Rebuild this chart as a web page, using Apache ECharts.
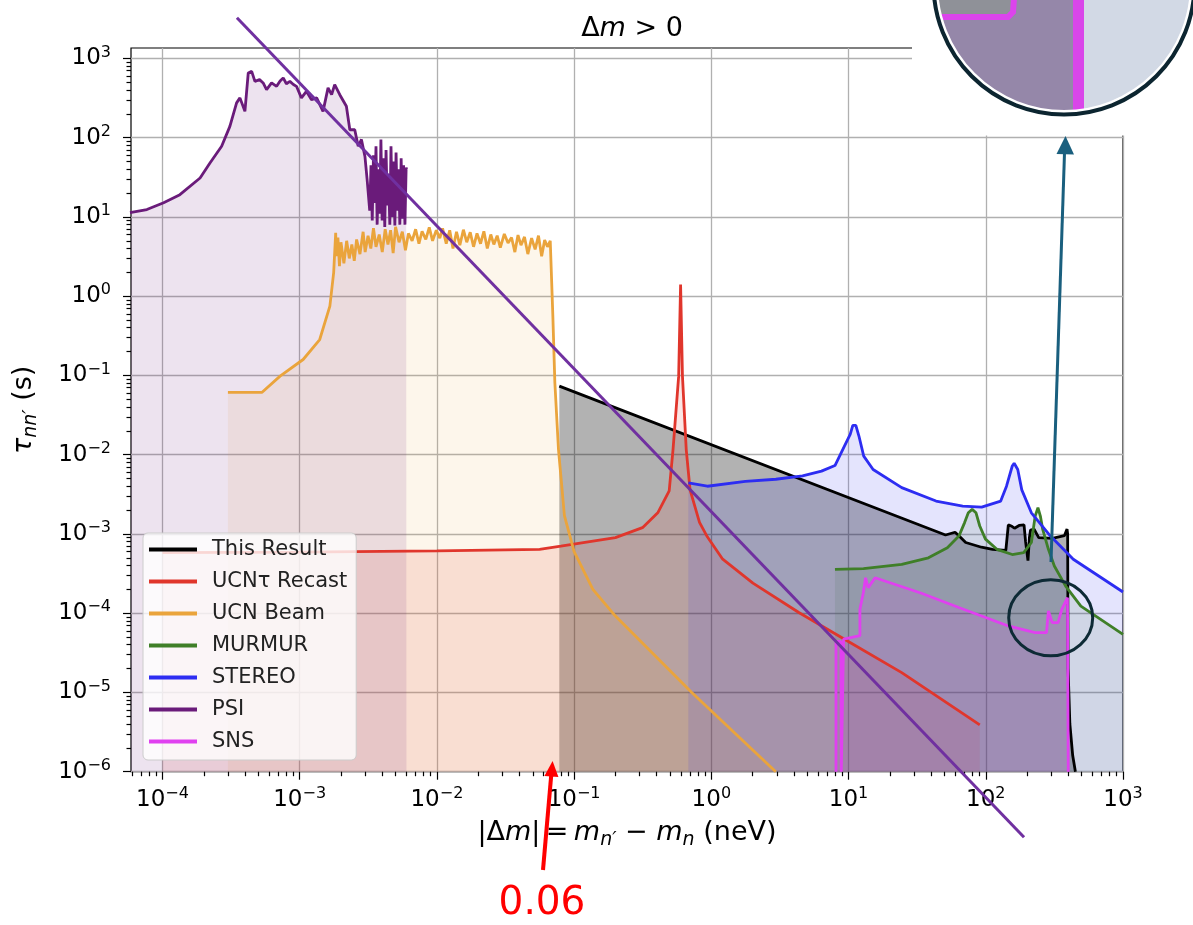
<!DOCTYPE html>
<html><head><meta charset="utf-8">
<script src="https://cdn.jsdelivr.net/npm/echarts@6/dist/echarts.min.js"></script>
<style>html,body{margin:0;padding:0;background:#fff}#c{width:1193px;height:925px}</style>
</head><body><div id="c"></div>
<script>
// ---------- data ----------
const xMajorTicks = [1e-4, 1e-3, 1e-2, 1e-1, 1, 10, 100, 1000];
const yMajorTicks = [1e-6, 1e-5, 1e-4, 1e-3, 1e-2, 1e-1, 1, 10, 100, 1000];
const legendNames = ['This Result', 'UCNτ Recast', 'UCN Beam', 'MURMUR', 'STEREO', 'PSI', 'SNS'];

const thisResult = [[0.078,0.0733],[50.9,9.7e-4],[59.7,1.05e-3],[64,9.4e-4],[71.4,7.8e-4],[93,6.8e-4],[112,6.4e-4],[140,6.2e-4],[146,1.3e-3],[155,1.25e-3],[162,1.18e-3],[175,1.28e-3],[190,1.3e-3],[195,8e-4],[203,4.6e-4],[208,9e-4],[212,1.12e-3],[225,1.15e-3],[243,9e-4],[305,8.8e-4],[374,9.5e-4],[391,1.15e-3],[395,1e-3],[398,2e-5],[410,4e-6],[430,1.6e-6],[450,1e-6]];

const ucnTauRecast = [[1e-4,5.8e-4],[1e-3,5.9e-4],[1e-2,6.1e-4],[0.056,6.4e-4],[0.08,7.0e-4],[0.2,9e-4],[0.315,1.2e-3],[0.407,1.85e-3],[0.493,3.5e-3],[0.526,0.0117],[0.578,0.098],[0.597,1.4],[0.616,0.098],[0.656,0.0117],[0.70,3.6e-3],[0.82,1.4e-3],[0.935,9.2e-4],[1.21,4.8e-4],[2.01,2.4e-4],[4.34,1.02e-4],[9.34,4.7e-5],[24.4,1.78e-5],[90.4,3.9e-6]];

const ucnBeam = [[3.0e-4,0.061],[5.3e-4,0.061],[7.2e-4,0.098],[1.06e-3,0.159],[1.4e-3,0.284],[1.66e-3,0.75],[1.77e-3,2.0],[1.83e-3,6.3],
[1.85e-3,3.2],[1.9e-3,5.5],[1.95e-3,2.4],[2.0e-3,4.8],[2.1e-3,2.6],[2.2e-3,5.0],[2.3e-3,3.0],[2.4e-3,4.5],[2.5e-3,2.8],[2.6e-3,5.2],[2.75e-3,3.4],[2.9e-3,6.5],[3.0e-3,3.6],[3.15e-3,5.8],[3.3e-3,4.0],[3.45e-3,7.2],[3.6e-3,4.2],[3.8e-3,6.0],[4.0e-3,3.6],[4.2e-3,7.0],[4.4e-3,4.5],[4.6e-3,6.8],[4.8e-3,3.5],[5.0e-3,7.5],[5.3e-3,4.8],[5.6e-3,6.5],[5.9e-3,3.8],[6.2e-3,6.2],[6.6e-3,5.0],[7.0e-3,7.0],[7.4e-3,4.6],[7.8e-3,6.6],[8.3e-3,5.2],[8.8e-3,7.4],[9.3e-3,5.0],[9.9e-3,6.8],[1.05e-2,5.4],[1.1e-2,7.2],[1.17e-2,4.6],[1.24e-2,6.8],[1.31e-2,4.0],[1.39e-2,6.5],[1.47e-2,4.4],[1.56e-2,6.9],[1.65e-2,4.8],[1.75e-2,6.4],[1.85e-2,4.2],[1.96e-2,6.2],[2.08e-2,4.6],[2.2e-2,6.6],[2.33e-2,4.0],[2.47e-2,6.0],[2.6e-2,4.5],[2.75e-2,5.8],[2.9e-2,4.1],[3.1e-2,6.1],[3.3e-2,4.7],[3.5e-2,5.5],[3.7e-2,3.6],[3.9e-2,5.9],[4.1e-2,4.4],[4.35e-2,5.6],[4.6e-2,3.4],[4.9e-2,5.4],[5.2e-2,3.9],[5.5e-2,5.8],[5.8e-2,3.2],[6.1e-2,5.1],[6.4e-2,4.2],[6.7e-2,5.0],
[7.0e-2,0.56],[7.24e-2,0.081],[7.69e-2,0.0117],[8.5e-2,1.7e-3],[0.1,6e-4],[0.137,2e-4],[0.2,9.2e-5],[0.72,1e-5],[2.95,1e-6]];

const murmur = [[7.96,3.57e-4],[12.85,3.65e-4],[24.4,4.14e-4],[38.2,5.0e-4],[52.5,6.7e-4],[63.7,9.4e-4],[70.1,1.39e-3],[74.6,1.85e-3],[79.6,2.04e-3],[84.9,1.85e-3],[90.4,1.26e-3],[99.5,8.6e-4],[120.5,6.4e-4],[156,5.5e-4],[189,5.8e-4],[215,7.8e-4],[229,1.68e-3],[240,2.14e-3],[250,1.68e-3],[260,1.14e-3],[286,6.4e-4],[316,3.94e-4],[382,2.2e-4],[493,1.23e-4],[1000,5.4e-5]];

const stereo = [[0.68,4.4e-3],[0.935,4.0e-3],[1.77,4.6e-3],[2.95,4.9e-3],[4.62,5.4e-3],[6.35,6.2e-3],[7.96,7.3e-3],[9.33,0.0128],[10.28,0.018],[10.74,0.0234],[11.3,0.0234],[11.9,0.0172],[12.9,9.6e-3],[15.1,6.5e-3],[24.4,3.84e-3],[43.4,2.6e-3],[67.9,2.25e-3],[93.3,2.18e-3],[128.5,2.6e-3],[141.6,4.0e-3],[156,7.2e-3],[161,7.8e-3],[171,6.5e-3],[183,3.6e-3],[215,1.85e-3],[296,9.4e-4],[434,4.8e-4],[1000,1.85e-4]];

const psi = [[5.8e-5,11.3],[7.7e-5,12.4],[1.02e-4,15.1],[1.34e-4,19.1],[1.88e-4,31],[2.22e-4,48],[2.70e-4,78],[3.10e-4,139],[3.47e-4,275],[3.67e-4,318],[3.99e-4,215],[4.22e-4,656],[4.47e-4,687],[4.72e-4,514],[5.1e-4,540],[5.42e-4,491],[5.74e-4,405],[6.24e-4,491],[6.79e-4,445],[7.2e-4,520],[7.59e-4,568],[8.0e-4,480],[8.49e-4,514],[9.0e-4,470],[9.48e-4,445],[1.03e-3,318],[1.12e-3,385],[1.22e-3,302],[1.33e-3,318],[1.48e-3,215],[1.61e-3,425],[1.71e-3,350],[1.80e-3,468],[1.96e-3,349],[2.19e-3,249],[2.32e-3,126],[2.52e-3,126],[2.67e-3,78],[2.82e-3,95],[2.99e-3,58],[3.1e-3,30],
[3.17e-3,30],[3.24e-3,12],[3.31e-3,45],[3.38e-3,9],[3.45e-3,60],[3.52e-3,15],[3.60e-3,78],[3.67e-3,8],[3.75e-3,40],[3.83e-3,11],[3.91e-3,95],[3.99e-3,9],[4.08e-3,55],[4.17e-3,7.5],[4.26e-3,70],[4.35e-3,14],[4.44e-3,35],[4.54e-3,8],[4.63e-3,78],[4.73e-3,10],[4.83e-3,50],[4.94e-3,7.8],[5.04e-3,65],[5.15e-3,12],[5.26e-3,40],[5.37e-3,8],[5.49e-3,55],[5.60e-3,9.5],[5.72e-3,45],[5.85e-3,8],[5.97e-3,42],[6.0e-3,40]];

const sns = [[8.1,1e-6],[8.1,4.4e-5],[8.8,4.4e-5],[8.85,1e-6],[9.1,1e-6],[9.2,4.7e-5],[12.1,5.2e-5],[12.1,1.12e-4],[12.8,1.8e-4],[13.3,2.8e-4],[13.9,2.1e-4],[15.6,2.8e-4],[33.6,1.8e-4],[63.6,1.18e-4],[146,6.9e-5],[229,5.7e-5],[277,5.7e-5],[286,1.07e-4],[305,7.6e-5],[336,7.6e-5],[358,1.12e-4],[394,1.57e-4],[399,1e-6]];

const annotationLine = [[3.49e-4,3270],[190,1.49e-7]];

// ---------- chart ----------
const FONT = 'DejaVu Sans';
const colors = {
  'This Result':'#000000','UCNτ Recast':'#e0362c','UCN Beam':'#eaa43c','MURMUR':'#3f7f28',
  'STEREO':'#2d2df2','PSI':'#6a1b7a','SNS':'#e040f0'
};
const fillAlpha = {'This Result':0.3,'UCNτ Recast':0.13,'UCN Beam':0.1,'MURMUR':0.12,'STEREO':0.13,'PSI':0.12,'SNS':0.15};
const seriesData = {'This Result':thisResult,'UCNτ Recast':ucnTauRecast,'UCN Beam':ucnBeam,'MURMUR':murmur,'STEREO':stereo,'PSI':psi,'SNS':sns};

function rgba(hex,a){const n=parseInt(hex.slice(1),16);return `rgba(${n>>16},${(n>>8)&255},${n&255},${a})`;}
function minorsOf(majors, lo, hi){const out=[];const all=[majors[0]/10].concat(majors);all.forEach(m=>{for(let k=2;k<=9;k++){const v=m*k;if(v>=lo&&v<=hi)out.push(v);}});return out;}
const xMin=5.9e-5, xMax=1000, yMin=1e-6, yMax=1355;
const xMinorTicks = minorsOf(xMajorTicks,xMin,xMax);
const yMinorTicks = minorsOf(yMajorTicks,yMin,yMax);

function powLabel(v){const e=Math.round(Math.log10(v));return '{b|10}{s|'+(e<0?'\u2212'+(-e):String(e))+'}';}
const labelRich = {
  b:{fontSize:23,lineHeight:28,fontFamily:FONT,color:'#000'},
  s:{fontSize:16,lineHeight:19,verticalAlign:'top',fontFamily:FONT,color:'#000'}
};
const tickStyle = {color:'#000',width:1.2};
const gridLine = {show:true,lineStyle:{color:'#b0b0b0',width:1.3}};
const nameRich = {
  t:{fontSize:27,lineHeight:34,fontFamily:FONT,color:'#000'},
  i:{fontSize:27,lineHeight:34,fontFamily:FONT,fontStyle:'italic',color:'#000'},
  sub:{fontSize:19,lineHeight:22,fontFamily:FONT,fontStyle:'italic',verticalAlign:'bottom',color:'#000'}
};

const series = [];
legendNames.forEach(n=>{
  series.push({name:n,type:'line',data:seriesData[n],symbol:'none',showSymbol:false,z:1,silent:true,animation:false,
    color:colors[n],lineStyle:{width:0,color:colors[n]},itemStyle:{color:colors[n]},
    areaStyle:{color:rgba(colors[n],fillAlpha[n]),opacity:1,origin:'start'}});
});
legendNames.forEach(n=>{
  series.push({name:n,type:'line',data:seriesData[n],symbol:'none',showSymbol:false,z:2,silent:true,animation:false,
    color:colors[n],lineStyle:{width:2.8,color:colors[n]},itemStyle:{color:colors[n]}});
});
series.push({name:'annotation',type:'line',data:annotationLine,symbol:'none',showSymbol:false,z:5,clip:false,silent:true,animation:false,
  lineStyle:{width:3,color:'#7030a0'},itemStyle:{color:'#7030a0'}});

// inset helper (decoration only)
const IC={cx:1064,cy:-16};
function circlePoly(r,xmax){const p=[];for(let i=0;i<=240;i++){const a=i/240*2*Math.PI;p.push([Math.min(IC.cx+r*Math.cos(a),xmax),IC.cy+r*Math.sin(a)]);}return p;}

const chart = echarts.init(document.getElementById('c'),null,{renderer:'canvas'});
chart.setOption({
  animation:false,
  backgroundColor:'#ffffff',
  title:{text:'Δ{i|m} > 0',left:627,top:10,textAlign:'center',
    textStyle:{fontFamily:FONT,fontSize:27,fontWeight:'normal',color:'#000',
      rich:{i:{fontFamily:FONT,fontSize:27,fontStyle:'italic',color:'#000'}}}},
  grid:{left:131,right:70,top:48,bottom:153.3,show:true,borderColor:'#000',borderWidth:1.2,backgroundColor:'transparent'},
  legend:{data:legendNames,orient:'vertical',left:143,top:533,icon:'rect',itemWidth:48,itemHeight:4,itemGap:11,
    padding:[6,9,8,6],backgroundColor:'rgba(255,255,255,0.8)',borderColor:'#cccccc',borderWidth:1,borderRadius:5,
    selectedMode:false,
    textStyle:{fontFamily:FONT,fontSize:21,lineHeight:21,color:'#222',padding:[0,0,0,10]}},
  xAxis:[
    {type:'log',min:xMin,max:xMax,position:'bottom',axisLine:{show:false},
     axisTick:{customValues:xMajorTicks,length:8,lineStyle:tickStyle},
     axisLabel:{customValues:xMajorTicks,formatter:powLabel,margin:14,rich:labelRich},
     splitLine:gridLine,
     name:'{t||Δ}{i|m}{t||\u2009=\u2009}{i|m}{sub|n′}{t| − }{i|m}{sub|n}{t| (neV)}',nameLocation:'middle',nameGap:44,
     nameTextStyle:{fontFamily:FONT,fontSize:27,color:'#000',rich:nameRich}},
    {type:'log',min:xMin,max:xMax,position:'bottom',axisLine:{show:false},
     axisTick:{customValues:xMinorTicks,length:4.5,lineStyle:tickStyle},
     axisLabel:{show:false},splitLine:{show:false}}
  ],
  yAxis:[
    {type:'log',min:yMin,max:yMax,position:'left',axisLine:{show:false},
     axisTick:{customValues:yMajorTicks,length:8,lineStyle:tickStyle},
     axisLabel:{customValues:yMajorTicks,formatter:powLabel,margin:20,rich:labelRich},
     splitLine:gridLine,
     name:'{i|τ}{sub|nn′}{t| (s)}',nameLocation:'middle',nameRotate:90,nameGap:90,
     nameTextStyle:{fontFamily:FONT,fontSize:27,color:'#000',rich:nameRich}},
    {type:'log',min:yMin,max:yMax,position:'left',axisLine:{show:false},
     axisTick:{customValues:yMinorTicks,length:4.5,lineStyle:tickStyle},
     axisLabel:{show:false},splitLine:{show:false}}
  ],
  series:series,
  graphic:[
    // red arrow + label
    {type:'line',z:100,shape:{x1:543,y1:870,x2:551.5,y2:772},style:{stroke:'#ff0000',lineWidth:4}},
    {type:'polygon',z:100,shape:{points:[[552.6,761],[544.4,776],[558.4,777]]},style:{fill:'#ff0000'}},
    {type:'text',z:100,x:542,y:904,style:{text:'0.06',fill:'#ff0000',font:'39px "DejaVu Sans"',align:'center',verticalAlign:'middle'}},
    // small circle around SNS feature
    {type:'ellipse',z:100,shape:{cx:1050.7,cy:617.7,rx:42,ry:38},style:{fill:'none',stroke:'#0d2a35',lineWidth:3}},
    // inset
    {type:'rect',z:100,shape:{x:912,y:0,width:281,height:135.5},style:{fill:'#ffffff'}},
    {type:'circle',z:101,shape:{cx:IC.cx,cy:IC.cy,r:127},style:{fill:'#d2d9e5'}},
    {type:'polygon',z:102,shape:{points:circlePoly(127,1084)},style:{fill:'#d946e9'}},
    {type:'polygon',z:103,shape:{points:circlePoly(127,1073)},style:{fill:'#9587a9'}},
    {type:'polygon',z:104,shape:{points:[[935,0],[1011,0],[1011,14],[937.5,14]]},style:{fill:'#8f9198'}},
    {type:'polyline',z:105,shape:{points:[[937,17],[1008,17],[1013,12],[1014,-2]]},style:{stroke:'#dc44ec',lineWidth:6,fill:null}},
    {type:'circle',z:106,shape:{cx:IC.cx,cy:IC.cy,r:127.5},style:{fill:'none',stroke:'#ffffff',lineWidth:3}},
    {type:'circle',z:107,shape:{cx:IC.cx,cy:IC.cy,r:130.5},style:{fill:'none',stroke:'#0c2530',lineWidth:4}},
    // teal arrow
    {type:'line',z:100,shape:{x1:1051,y1:562,x2:1064.6,y2:150},style:{stroke:'#1a5f7e',lineWidth:3}},
    {type:'polygon',z:100,shape:{points:[[1065.5,136],[1056.5,154],[1074,154.5]]},style:{fill:'#1a5f7e'}}
  ]
});
</script></body></html>
